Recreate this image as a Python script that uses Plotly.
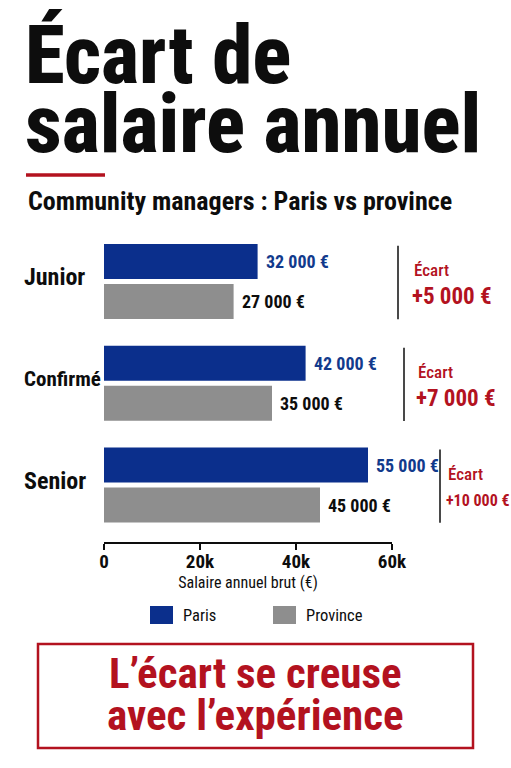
import plotly.graph_objects as go

# ---- data ----
categories = ["Junior", "Confirmé", "Senior"]
paris = [32000, 42000, 55000]
province = [27000, 35000, 45000]
series_names = ["Paris", "Province"]
tick_vals = [0, 20000, 40000, 60000]
tick_text = ["0", "20k", "40k", "60k"]

title_lines = ["Écart de", "salaire annuel"]
subtitle = "Community managers : Paris vs province"
x_title = "Salaire annuel brut (€)"
ecart_word = "Écart"
conclusion = ["L’écart se creuse", "avec l’expérience"]

# ---- style ----
W, H = 511, 768
BLUE = "#0b2f8c"
BLUE_TXT = "#123a8c"
GRAY = "#8e8e8e"
RED = "#b3121f"
BLACK = "#0d0d0d"
COND = "Roboto Condensed, Barlow Condensed, Archivo Narrow, sans-serif"
cat_font_size = [24, 21, 24]


def px_x(p):
    return p / W


def px_y(p):
    return 1 - p / H


def fmt(v):
    return f"{v:,}".replace(",", " ") + " €"


fig = go.Figure()
fig.add_trace(go.Bar(y=categories, x=paris, orientation="h", name=series_names[0],
                     marker=dict(color=BLUE, line_width=0), showlegend=False))
fig.add_trace(go.Bar(y=categories, x=province, orientation="h", name=series_names[1],
                     marker=dict(color=GRAY, line_width=0), showlegend=False))

ann = []
# title
ann.append(dict(text=title_lines[0], x=px_x(23), y=px_y(55), xanchor="left", yanchor="middle",
                font=dict(family=COND, size=81, color=BLACK, weight=800)))
ann.append(dict(text=title_lines[1], x=px_x(23), y=px_y(125), xanchor="left", yanchor="middle",
                font=dict(family=COND, size=81, color=BLACK, weight=800)))
ann.append(dict(text=subtitle, x=px_x(26), y=px_y(201), xanchor="left", yanchor="middle",
                font=dict(family=COND, size=26, color=BLACK, weight="bold")))

# category labels
for c, fs in zip(categories, cat_font_size):
    ann.append(dict(text=c, x=px_x(22), xref="paper", y=c, yref="y", xanchor="left",
                    yanchor="middle", yshift=4,
                    font=dict(family=COND, size=fs, color=BLACK, weight="bold")))

# value labels
for c, p, q in zip(categories, paris, province):
    ann.append(dict(text=fmt(p), x=p, xref="x", y=c, yref="y", xanchor="left", yanchor="middle",
                    xshift=6, yshift=20,
                    font=dict(family=COND, size=18, color=BLUE_TXT, weight="bold")))
    ann.append(dict(text=fmt(q), x=q, xref="x", y=c, yref="y", xanchor="left", yanchor="middle",
                    xshift=6, yshift=-20,
                    font=dict(family=COND, size=18, color=BLACK, weight="bold")))

# ecart blocks
line_x = [398, 404, 440]
word_dx = [14, 12, 6]
val_dx = [12, 10, 4]
val_size = [23, 23, 16]
shapes = []
for i, (c, p, q) in enumerate(zip(categories, paris, province)):
    ann.append(dict(text=ecart_word, x=px_x(line_x[i] + word_dx[i]), xref="paper", y=c, yref="y",
                    xanchor="left", yanchor="middle", yshift=11,
                    font=dict(family=COND, size=17, color=RED, weight=500)))
    ann.append(dict(text="+" + fmt(p - q), x=px_x(line_x[i] + val_dx[i]), xref="paper", y=c,
                    yref="y", xanchor="left", yanchor="middle", yshift=-15,
                    font=dict(family=COND, size=val_size[i], color=RED, weight="bold")))
    shapes.append(dict(type="line", xref="paper", x0=px_x(line_x[i]), x1=px_x(line_x[i]),
                       yref="y", y0=i - 0.35, y1=i + 0.37, line=dict(color=BLACK, width=1.5)))

# red rule under title
shapes.append(dict(type="line", xref="paper", yref="paper", x0=px_x(26), x1=px_x(105),
                   y0=px_y(175), y1=px_y(175), line=dict(color=RED, width=3.5)))

# legend (custom)
legend_items = [(series_names[0], BLUE, 150), (series_names[1], GRAY, 273)]
for name, col, lx in legend_items:
    shapes.append(dict(type="rect", xref="paper", yref="paper", x0=px_x(lx), x1=px_x(lx + 23),
                       y0=px_y(624), y1=px_y(606), fillcolor=col, line_width=0))
    ann.append(dict(text=name, x=px_x(lx + 31), y=px_y(615), xanchor="left", yanchor="middle",
                    font=dict(family=COND, size=16.5, color=BLACK)))

# conclusion box
shapes.append(dict(type="rect", xref="paper", yref="paper", x0=px_x(38), x1=px_x(473),
                   y0=px_y(748), y1=px_y(644), line=dict(color=RED, width=2.5), fillcolor="white"))
ann.append(dict(text=conclusion[0], x=0.5, y=px_y(673), xanchor="center", yanchor="middle",
                font=dict(family=COND, size=43, color=RED, weight="bold")))
ann.append(dict(text=conclusion[1], x=0.5, y=px_y(715), xanchor="center", yanchor="middle",
                font=dict(family=COND, size=43, color=RED, weight="bold")))

for a in ann:
    a.setdefault("xref", "paper")
    a.setdefault("yref", "paper")
    a["showarrow"] = False

fig.update_layout(
    width=W, height=H, autosize=False,
    margin=dict(l=0, r=0, t=0, b=0, autoexpand=False),
    paper_bgcolor="white", plot_bgcolor="white",
    barmode="group", bargap=0.214, bargroupgap=0.125,
    annotations=ann, shapes=shapes,
    xaxis=dict(domain=[px_x(104), px_x(392)], range=[0, 60000], tickvals=tick_vals,
               ticktext=tick_text, showgrid=False, zeroline=False, showline=True,
               linecolor=BLACK, linewidth=1.5, ticks="outside", ticklen=6, tickwidth=1.5,
               tickcolor=BLACK, anchor="y", ticklabelstandoff=-5,
               tickfont=dict(family=COND, size=19, color=BLACK, weight="bold"),
               title=dict(text=x_title, standoff=2,
                          font=dict(family=COND, size=16, color=BLACK))),
    yaxis=dict(domain=[px_y(542), px_y(230.6)], range=[2.56, -0.5], showticklabels=False,
               showgrid=False, zeroline=False, showline=False, ticks=""),
    font=dict(family=COND),
)

fig.write_html("out.html", config={"displayModeBar": False})
